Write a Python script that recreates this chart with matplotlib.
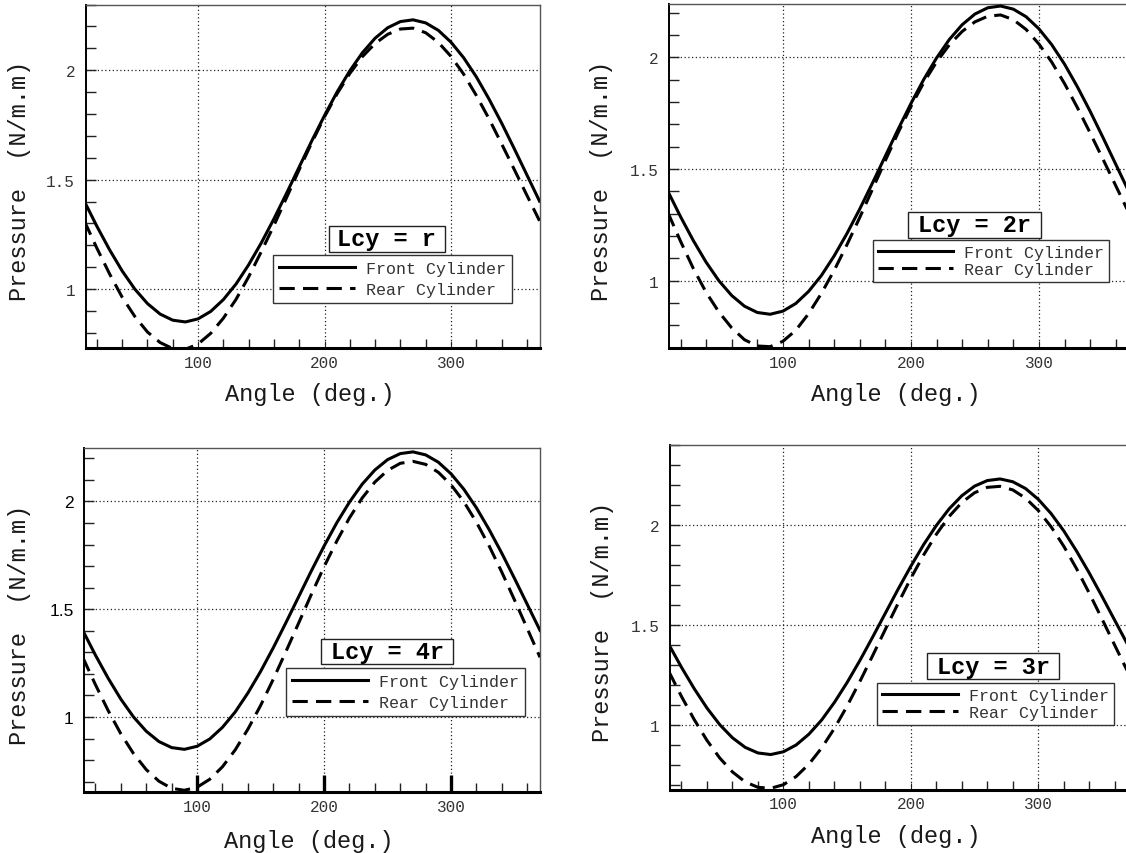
import matplotlib
matplotlib.use('Agg')
import matplotlib.pyplot as plt
from matplotlib.patches import Rectangle
from matplotlib.ticker import FixedLocator, MultipleLocator

# crank angle (deg.), values every 10 deg.
angle = list(range(10, 371, 10))

# front cylinder: the four panels show the same curve
front = [1.402, 1.287, 1.180, 1.083, 1.000, 0.934, 0.886, 0.858, 0.850, 0.864,
         0.898, 0.952, 1.023, 1.111, 1.211, 1.321, 1.438, 1.558, 1.678, 1.793,
         1.901, 1.997, 2.080, 2.146, 2.194, 2.222, 2.230, 2.216, 2.182, 2.128,
         2.057, 1.970, 1.869, 1.759, 1.642, 1.522, 1.402]

rear_r = [1.312, 1.187, 1.070, 0.963, 0.875, 0.804, 0.756, 0.728, 0.725, 0.749,
          0.798, 0.867, 0.953, 1.056, 1.171, 1.291, 1.418, 1.546, 1.670, 1.787,
          1.893, 1.985, 2.062, 2.122, 2.164, 2.188, 2.192, 2.171, 2.127, 2.063,
          1.982, 1.885, 1.779, 1.664, 1.547, 1.429, 1.312]

rear_2r = [1.307, 1.177, 1.055, 0.948, 0.860, 0.789, 0.736, 0.708, 0.705, 0.729,
           0.778, 0.852, 0.943, 1.046, 1.161, 1.283, 1.410, 1.538, 1.663, 1.780,
           1.887, 1.979, 2.056, 2.116, 2.159, 2.184, 2.190, 2.169, 2.125, 2.060,
           1.979, 1.883, 1.776, 1.662, 1.545, 1.426, 1.307]

rear_3r = [1.267, 1.141, 1.025, 0.921, 0.833, 0.763, 0.713, 0.686, 0.681, 0.699,
           0.740, 0.802, 0.883, 0.981, 1.093, 1.216, 1.345, 1.477, 1.607, 1.733,
           1.849, 1.953, 2.042, 2.112, 2.161, 2.188, 2.193, 2.175, 2.134, 2.072,
           1.991, 1.893, 1.781, 1.658, 1.529, 1.397, 1.267]

rear_4r = [1.277, 1.150, 1.030, 0.922, 0.830, 0.756, 0.702, 0.669, 0.660, 0.674,
           0.711, 0.769, 0.847, 0.943, 1.053, 1.175, 1.304, 1.436, 1.569, 1.697,
           1.816, 1.924, 2.016, 2.090, 2.144, 2.177, 2.186, 2.172, 2.135, 2.077,
           1.999, 1.903, 1.793, 1.671, 1.542, 1.410, 1.277]

x_ticks = [100, 200, 300]
y_ticks = [1, 1.5, 2]
y_ticklabels = ['1', '1.5', '2']

W, H = 1126, 854
MONO = 'Liberation Mono'

# layout in figure pixels: axes (l, t, r, b), tag box, legend top-left
panels = [
    dict(rect=(85.5, 5.5, 539.5, 349), ylim=(0.731, 2.30), rear=rear_r, tag='Lcy = r',
         tagbox=(328.5, 227, 444.5, 252.5), leg=(273.3, 255.7), lsp=0.38, bp=0.36,
         ylab=19.6, xlab=395, sans=False),
    dict(rect=(669, 5, 1128.5, 349), ylim=(0.699, 2.239), rear=rear_2r, tag='Lcy = 2r',
         tagbox=(907.7, 212.7, 1041, 239), leg=(872.6, 240.7), lsp=0.12, bp=0.3,
         ylab=601.7, xlab=395, sans=False),
    dict(rect=(84, 449, 540, 793), ylim=(0.652, 2.248), rear=rear_4r, tag='Lcy = 4r',
         tagbox=(321.3, 639.7, 453.3, 665.3), leg=(286.3, 668.7), lsp=0.38, bp=0.36,
         ylab=19.6, xlab=841.7, sans=True),
    dict(rect=(670, 446, 1127.5, 790.5), ylim=(0.675, 2.40), rear=rear_3r, tag='Lcy = 3r',
         tagbox=(926.8, 654.3, 1059.3, 680), leg=(877, 684), lsp=0.1, bp=0.3,
         ylab=603, xlab=836.7, sans=False),
]

fig = plt.figure(figsize=(W / 100, H / 100), dpi=100)

for p in panels:
    l, t, r, b = p['rect']
    ax = fig.add_axes([l / W, 1 - b / H, (r - l) / W, (b - t) / H])

    ax.plot(angle, front, color='black', lw=2.2, label='Front Cylinder',
            solid_joinstyle='round', zorder=3)
    ax.plot(angle, p['rear'], color='black', lw=2.2, dashes=(5, 2.7),
            label='Rear Cylinder', zorder=3)

    ax.set_xlim(11, 370)
    ax.set_ylim(*p['ylim'])
    ax.xaxis.set_major_locator(FixedLocator(x_ticks))
    ax.xaxis.set_minor_locator(MultipleLocator(20))
    ax.yaxis.set_major_locator(FixedLocator(y_ticks))
    ax.yaxis.set_minor_locator(MultipleLocator(0.1))
    ax.set_xticklabels([str(v) for v in x_ticks])
    ax.set_yticklabels(y_ticklabels)

    ax.grid(True, which='major', ls=(0, (1, 2)), lw=0.9, color='#222222')
    ax.tick_params(which='both', direction='in', top=False, right=False, color='#222222')
    ax.tick_params(axis='x', which='minor', length=6.5, width=1.0)
    ax.tick_params(axis='y', which='both', length=7, width=1.0)
    ax.tick_params(axis='x', which='major', pad=5, labelsize=11.5, labelcolor='#333333')
    ax.tick_params(axis='y', which='major', pad=7.5, labelsize=11.5, labelcolor='#333333')
    if p['sans']:
        ax.tick_params(axis='x', which='major', length=12.5, width=2.4, color='black')
    else:
        ax.tick_params(axis='x', which='major', length=5, width=0.8)

    for lab in ax.get_xticklabels():
        lab.set_fontfamily(MONO)
    for lab in ax.get_yticklabels():
        if p['sans']:
            lab.set_fontfamily('Liberation Sans')
            lab.set_fontsize(12.5)
            lab.set_color('black')
        else:
            lab.set_fontfamily(MONO)

    ax.spines['bottom'].set_linewidth(2.2)
    ax.spines['left'].set_linewidth(1.4)
    for s in ('top', 'right'):
        ax.spines[s].set_linewidth(1.0)
        ax.spines[s].set_color('#555555')

    ax.set_xlabel('Angle (deg.)', fontsize=17, family=MONO, color='#1a1a1a', va='center')
    ax.xaxis.set_label_coords(0.493, (b - p['xlab']) / (b - t))
    ax.set_ylabel('Pressure  (N/m.m)', fontsize=17, family=MONO, color='#1a1a1a', va='center')
    ax.yaxis.set_label_coords((p['ylab'] - l) / (r - l), 0.49)

    lx, ly = p['leg']
    leg = ax.legend(loc='upper left', bbox_to_anchor=(lx / W, 1 - ly / H),
                    bbox_transform=fig.transFigure, borderaxespad=0,
                    prop={'family': MONO, 'size': 12}, handlelength=4.55,
                    handletextpad=0.65, labelspacing=p['lsp'], borderpad=p['bp'],
                    fancybox=False, framealpha=1, edgecolor='#333333')
    leg.get_frame().set_linewidth(1.0)
    leg.set_zorder(6)
    for txt in leg.get_texts():
        txt.set_color('#333333')

    x0, y0, x1, y1 = p['tagbox']
    fig.add_artist(Rectangle((x0 / W, 1 - y1 / H), (x1 - x0) / W, (y1 - y0) / H,
                             transform=fig.transFigure, fc='white', ec='#222222',
                             lw=1.0, zorder=7))
    fig.text((x0 + x1) / 2 / W, 1 - (y0 + y1) / 2 / H, p['tag'], family=MONO,
             weight='bold', fontsize=17, ha='center', va='center', zorder=8)

fig.savefig('out.png', dpi=100)
